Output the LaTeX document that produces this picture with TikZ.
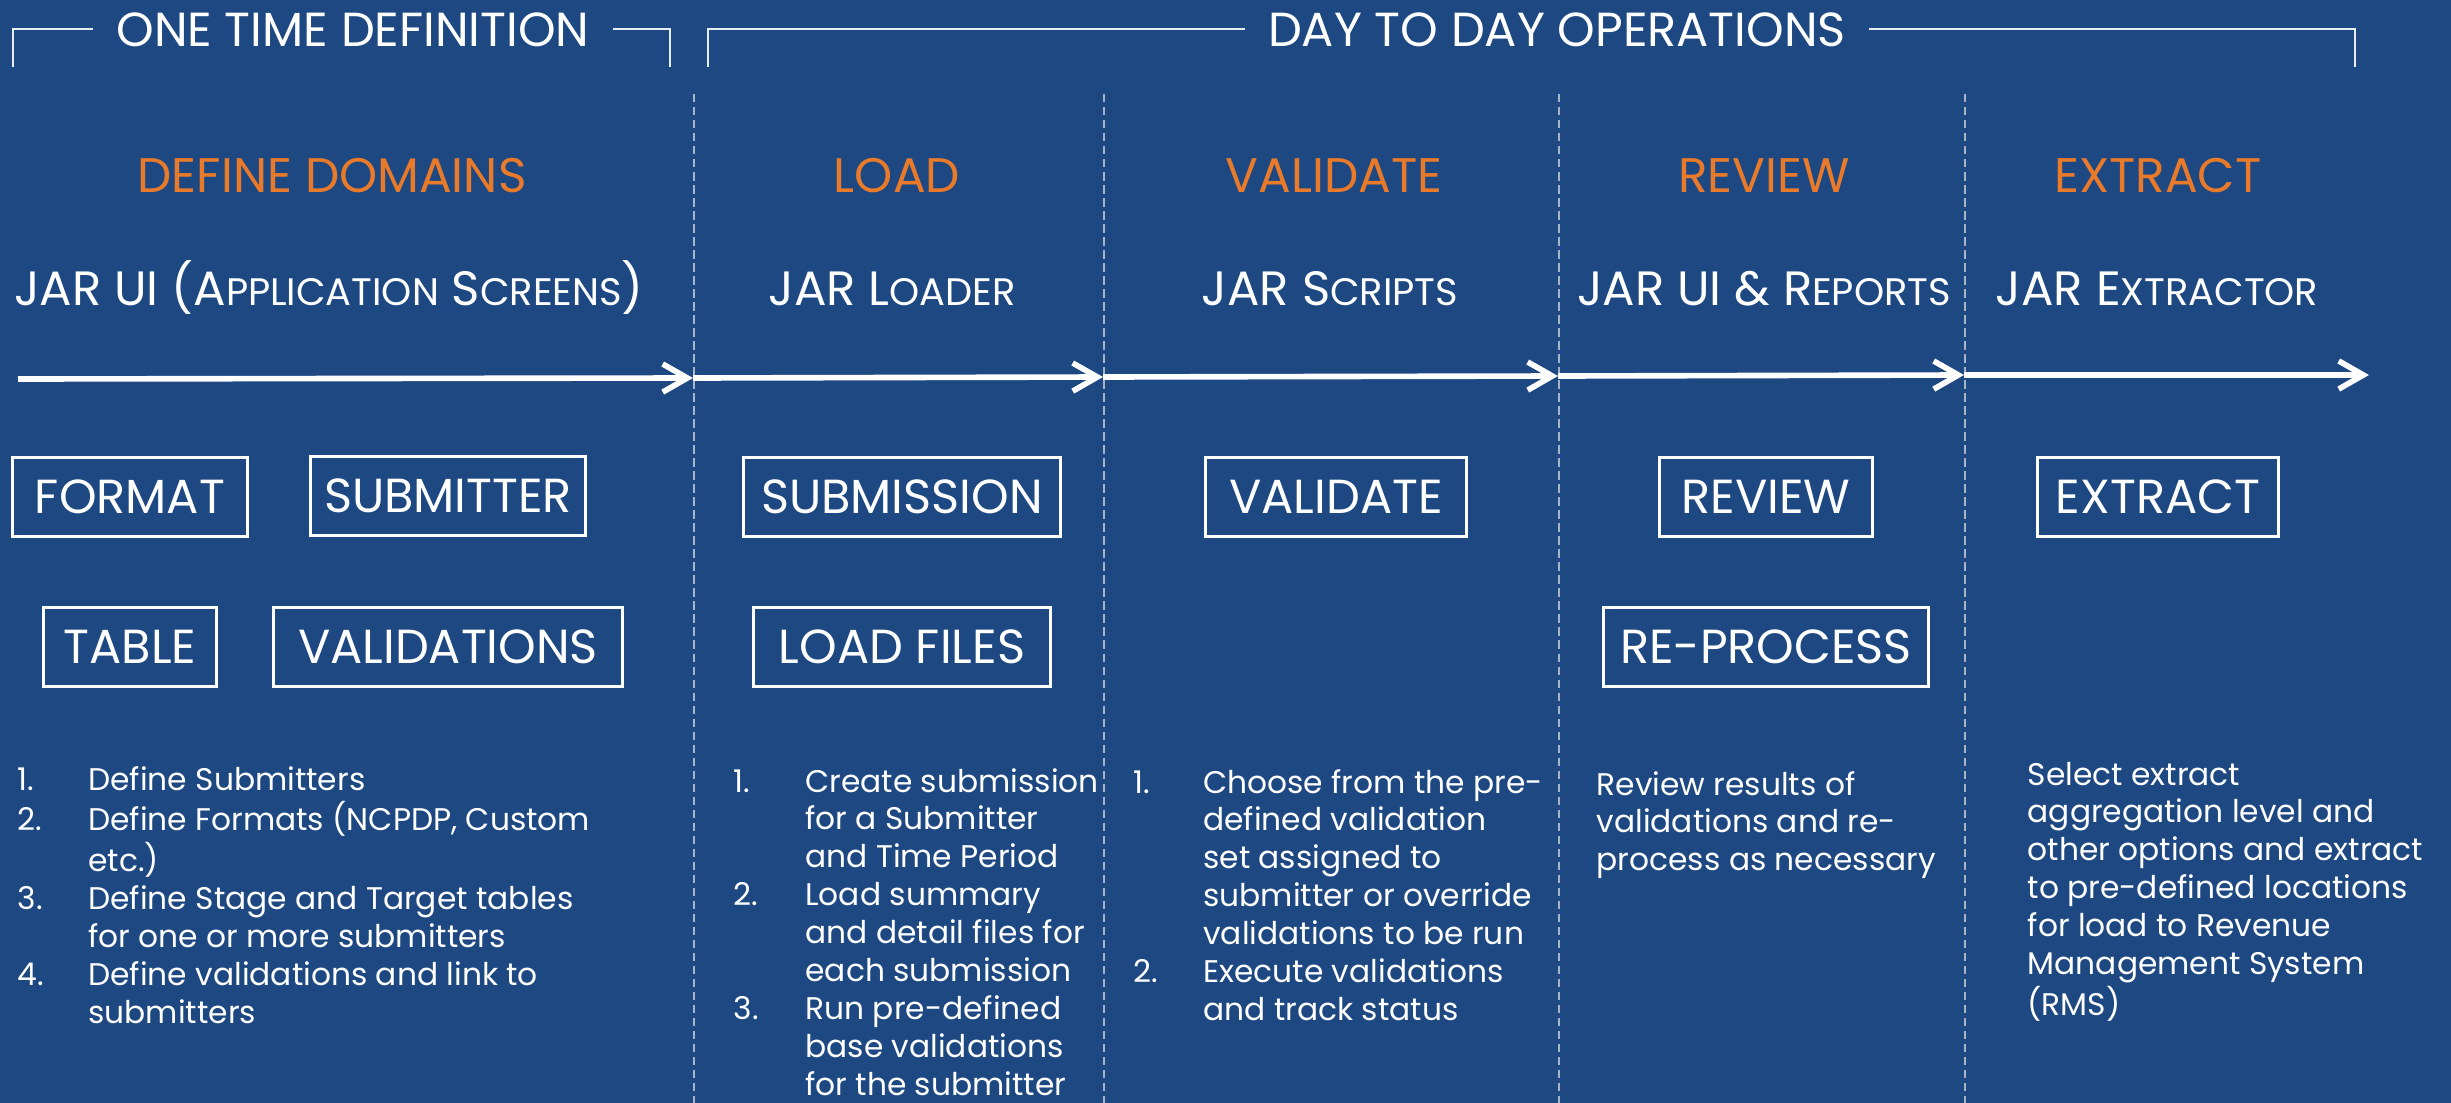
\documentclass[tikz,border=0pt]{standalone}
\usepackage{fontspec}
\setmainfont{Poppins}
\usetikzlibrary{arrows.meta}
\definecolor{bgblue}{RGB}{29,72,130}
\definecolor{hdorange}{RGB}{233,122,42}
\definecolor{sepgray}{RGB}{165,180,200}
\newcommand\jarsc[2]{#1{\fontsize{10.9}{12}\selectfont #2}}

\begin{document}
\begin{tikzpicture}[x=0.01cm,y=-0.01cm,
    phase/.style={text=white,font=\fontsize{13.6}{16}\selectfont,anchor=base,inner xsep=6.5pt,inner ysep=0pt},
    head/.style={text=hdorange,font=\fontsize{13.8}{16}\selectfont,anchor=base,inner sep=0pt},
    tool/.style={text=white,font=\fontsize{13.7}{17}\selectfont,anchor=base,inner sep=0pt},
    bx/.style={draw=white,line width=0.85pt,text=white,font=\fontsize{13.6}{16}\selectfont,minimum height=0.78cm,inner sep=0pt},
    flow/.style={draw=white,line width=1.6pt,-{Straight Barb[length=7pt,width=8pt]}},
    sep/.style={draw=sepgray,line width=0.4pt,dash pattern=on 2.4pt off 1.3pt},
    brk/.style={draw=white!90!bgblue,line width=0.5pt},
    steps/.style={text=white,font=\fontsize{8.9}{10.8}\selectfont,anchor=base west,inner sep=0pt}]
\useasboundingbox (0,0) rectangle (2451,1103);
\clip (0,0) rectangle (2451,1103);
\fill[bgblue] (0,0) rectangle (2451,1103);

\node[phase] (onetime) at (353,46) {ONE TIME DEFINITION};
\node[phase] (daytoday) at (1557,46) {DAY TO DAY OPERATIONS};
\coordinate (ot1) at (13,67);
\coordinate (ot2) at (670,67);
\coordinate (dd1) at (708,67);
\coordinate (dd2) at (2355,67);
\draw[brk] (ot1) |- (onetime.west) (onetime.east) -| (ot2)
    (dd1) |- (daytoday.west) (daytoday.east) -| (dd2);

\foreach \x in {694,1104,1559,1965}
  \draw[sep] (\x,94) -- (\x,1103);

\node[head] (hdef) at (332,192) {DEFINE DOMAINS};
\node[head] (hload) at (897,192) {LOAD};
\node[head] (hval) at (1334,192) {VALIDATE};
\node[head] (hrev) at (1764,192) {REVIEW};
\node[head] (hext) at (2158,192) {EXTRACT};

\node[tool] (tui) at (329,305) {JAR UI (\jarsc{A}{PPLICATION} \jarsc{S}{CREENS})};
\node[tool] (tload) at (892,305) {JAR \jarsc{L}{OADER}};
\node[tool] (tscr) at (1330,305) {JAR \jarsc{S}{CRIPTS}};
\node[tool] (trep) at (1764,305) {JAR UI \& \jarsc{R}{EPORTS}};
\node[tool] (text) at (2157,305) {JAR \jarsc{E}{XTRACTOR}};

\coordinate (a0) at (18,379);
\coordinate (a1) at (693,378);
\coordinate (a2) at (1103,377);
\coordinate (a3) at (1558,376);
\coordinate (a4) at (1964,375);
\coordinate (a5) at (2369,375);
\foreach \i/\j in {0/1,1/2,2/3,3/4,4/5}
  \draw[flow] (a\i) -- (a\j);

\node[bx,minimum width=2.34cm] (fmt) at (130,497) {FORMAT};
\node[bx,minimum width=2.74cm] (sbm) at (448,496) {SUBMITTER};
\node[bx,minimum width=1.73cm] (tbl) at (130,647) {TABLE};
\node[bx,minimum width=3.48cm] (vals) at (448,647) {VALIDATIONS};
\node[bx,minimum width=3.16cm] (subm) at (902,497) {SUBMISSION};
\node[bx,minimum width=2.96cm] (ldf) at (902,647) {LOAD FILES};
\node[bx,minimum width=2.61cm] (valb) at (1336,497) {VALIDATE};
\node[bx,minimum width=2.13cm] (revb) at (1766,497) {REVIEW};
\node[bx,minimum width=3.25cm] (rpb) at (1766,647) {RE-PROCESS};
\node[bx,minimum width=2.41cm] (exb) at (2158,497) {EXTRACT};

\node[steps] (defsteps) at (17,790) {\begin{tabular}[t]{@{}p{20.1pt}@{}l@{}}
1. & Define Submitters\\
2. & Define Formats (NCPDP, Custom\\
   & etc.)\\
3. & Define Stage and Target tables\\
   & for one or more submitters\\
4. & Define validations and link to\\
   & submitters
\end{tabular}};
\node[steps] (loadsteps) at (733,792) {\begin{tabular}[t]{@{}p{20.4pt}@{}l@{}}
1. & Create submission\\
   & for a Submitter\\
   & and Time Period\\
2. & Load summary\\
   & and detail files for\\
   & each submission\\
3. & Run pre-defined\\
   & base validations\\
   & for the submitter
\end{tabular}};
\node[steps] (valsteps) at (1133,793) {\begin{tabular}[t]{@{}p{19.8pt}@{}l@{}}
1. & Choose from the pre-\\
   & defined validation\\
   & set assigned to\\
   & submitter or override\\
   & validations to be run\\
2. & Execute validations\\
   & and track status
\end{tabular}};
\node[steps] (revtext) at (1596,795) {\begin{tabular}[t]{@{}l@{}}
Review results of\\
validations and re-\\
process as necessary
\end{tabular}};
\node[steps] (exttext) at (2027,785) {\begin{tabular}[t]{@{}l@{}}
Select extract\\
aggregation level and\\
other options and extract\\
to pre-defined locations\\
for load to Revenue\\
Management System\\
(RMS)
\end{tabular}};
\end{tikzpicture}
\end{document}
